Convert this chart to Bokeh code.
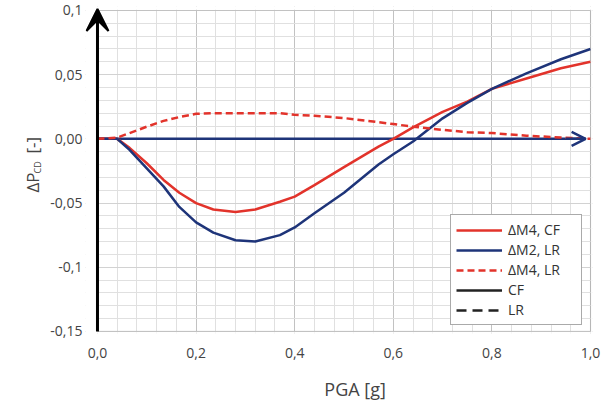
import math
from bokeh.plotting import figure
from bokeh.layouts import row, column
from bokeh.models import (Range1d, FixedTicker, Arrow, VeeHead, OpenHead,
                          Legend, LegendItem, BoxAnnotation)
from bokeh.core.properties import value
from bokeh.embed import file_html
from bokeh.resources import INLINE

# ---- data ----
pga = [0.0, 0.04, 0.065, 0.1, 0.134, 0.166, 0.2, 0.235, 0.28, 0.32, 0.37, 0.4,
       0.44, 0.5, 0.57, 0.6, 0.64, 0.7, 0.75, 0.8, 0.87, 0.94, 1.0]
dm4_cf = [0.0, 0.0, -0.007, -0.019, -0.032, -0.042, -0.050, -0.055, -0.057, -0.055,
          -0.049, -0.045, -0.036, -0.022, -0.006, 0.0, 0.009, 0.021, 0.029, 0.039,
          0.047, 0.055, 0.060]
dm2_lr = [0.0, 0.0, -0.0085, -0.023, -0.037, -0.053, -0.065, -0.073, -0.079, -0.080,
          -0.075, -0.069, -0.058, -0.042, -0.020, -0.012, -0.002, 0.016, 0.028, 0.039,
          0.051, 0.062, 0.070]
dm4_lr = [0.0, 0.001, 0.0045, 0.0095, 0.014, 0.017, 0.0195, 0.020, 0.020, 0.020,
          0.020, 0.0188, 0.018, 0.0162, 0.013, 0.0115, 0.0095, 0.007, 0.0052, 0.0045,
          0.0025, 0.001, 0.0]
zero_line_x = [0.0, 0.99]
zero_line_y = [0.0, 0.0]
legend_labels = ["ΔM4, CF", "ΔM2, LR", "ΔM4, LR", "CF", "LR"]

x_ticks = [0.0, 0.2, 0.4, 0.6, 0.8, 1.0]
x_tick_labels = ["0,0", "0,2", "0,4", "0,6", "0,8", "1,0"]
y_ticks = [-0.15, -0.1, -0.05, 0.0, 0.05, 0.1]
y_tick_labels = ["-0,15", "-0,1", "-0,05", "0,00", "0,05", "0,1"]
x_title = "PGA [g]"
x_min, x_max = 0.0, 1.0
y_min, y_max = -0.15, 0.1

x_minor = [round(i * 0.04, 4) for i in range(26)]
y_minor = [round(-0.15 + i * 0.01, 4) for i in range(26)]

RED = "#e2332b"
NAVY = "#1e3479"
FONT = "Open Sans"
TXT = "#444444"

p = figure(width=568, height=372, output_backend="svg", toolbar_location=None,
           x_range=Range1d(-0.0243, 1.004), y_range=Range1d(-0.1516, 0.1031),
           min_border_left=41, min_border_right=20, min_border_top=6,
           min_border_bottom=39)

p.xaxis.ticker = FixedTicker(ticks=x_ticks, minor_ticks=x_minor)
p.yaxis.ticker = FixedTicker(ticks=y_ticks, minor_ticks=y_minor)
p.xaxis.major_label_overrides = {t: l for t, l in zip(x_ticks, x_tick_labels)}
p.yaxis.major_label_overrides = {t: l for t, l in zip(y_ticks, y_tick_labels)}

for ax in (p.xaxis, p.yaxis):
    ax.major_tick_line_color = None
    ax.minor_tick_line_color = None
    ax.major_tick_out = 0
    ax.major_tick_in = 0
    ax.minor_tick_out = 0
    ax.axis_line_color = None
    ax.major_label_text_font = FONT
    ax.major_label_text_font_size = "14px"
    ax.major_label_text_color = TXT
p.xaxis.major_label_standoff = 14
p.yaxis.major_label_standoff = 3

p.xgrid.grid_line_color = "#c2c2c2"
p.xgrid.minor_grid_line_color = "#e0e0e0"
p.ygrid.grid_line_color = "#d2d2d2"
p.ygrid.minor_grid_line_color = "#e0e0e0"
p.outline_line_color = None
p.background_fill_color = "white"

# zero reference line
p.line(zero_line_x, zero_line_y, line_color=NAVY, line_width=2.5)

r1 = p.line(pga, dm4_cf, line_color=RED, line_width=2.5)
r2 = p.line(pga, dm2_lr, line_color=NAVY, line_width=2.5)
r3 = p.line(pga, dm4_lr, line_color=RED, line_width=2.5, line_dash="7 4")
nan_y = [float("nan")] * len(pga)
r4 = p.line(pga, nan_y, line_color="#222222", line_width=2.5)
r5 = p.line(pga, nan_y, line_color="#222222", line_width=2.5, line_dash="10 6")

# white covers outside the plotting box
for kw in (dict(right=x_min), dict(bottom=y_max + 0.0006),
           dict(top=y_min - 0.0006), dict(left=x_max + 0.0012)):
    p.add_layout(BoxAnnotation(fill_color="white", fill_alpha=1,
                               line_alpha=0, **kw))
# plotting box border
p.add_layout(BoxAnnotation(left=x_min, right=x_max, bottom=y_min, top=y_max,
                           fill_alpha=0, line_color="#a0a0a0", line_width=1.2))

# arrow head on the zero line
p.add_layout(Arrow(end=OpenHead(size=14, line_color=NAVY, line_width=2.5),
                   x_start=0.95, y_start=0.0, x_end=zero_line_x[1], y_end=0.0,
                   line_color=NAVY, line_width=2.5))
# y axis arrow
p.add_layout(Arrow(end=VeeHead(size=22, fill_color="black", fill_alpha=1.0,
                               line_color="black", line_width=2),
                   x_start=0, y_start=y_min, x_end=0, y_end=0.1012,
                   line_color="black", line_width=3))

legend = Legend(items=[LegendItem(label=l, renderers=[r])
                       for l, r in zip(legend_labels, [r1, r2, r3, r4, r5])],
                location=(365, 8))
legend.border_line_color = "#555555"
legend.border_line_width = 1
legend.background_fill_alpha = 1
legend.label_text_font = FONT
legend.label_text_font_size = "14px"
legend.label_text_color = "#333333"
legend.glyph_width = 46
legend.glyph_height = 14
legend.label_height = 18
legend.label_width = 68
legend.label_standoff = 6
legend.spacing = 1
legend.padding = 5
legend.margin = 0
p.add_layout(legend)

# x axis title in a thin figure below
bottom = figure(width=568, height=32, output_backend="svg", toolbar_location=None,
                x_range=Range1d(0, 568), y_range=Range1d(0, 32),
                x_axis_type=None, y_axis_type=None, min_border=0,
                outline_line_color=None)
bottom.grid.visible = False
bottom.text(x=[302], y=[16], text=[x_title], text_align="center",
            text_baseline="alphabetic", text_font=value(FONT),
            text_font_size="18px", text_color=TXT)

# y axis title in a narrow side figure
side = figure(width=44, height=404, output_backend="svg", toolbar_location=None,
              x_range=Range1d(0, 44), y_range=Range1d(0, 404),
              x_axis_type=None, y_axis_type=None, min_border=0,
              outline_line_color=None)
side.grid.visible = False
side.text(x=[32, 32], y=[212, 251], text=["ΔP", "[-]"], angle=math.pi / 2,
          text_align="left", text_baseline="alphabetic",
          text_font=value(FONT), text_font_size="17px", text_color=TXT)
side.text(x=[37], y=[231], text=["CD"], angle=math.pi / 2,
          text_align="left", text_baseline="alphabetic",
          text_font=value(FONT), text_font_size="9px", text_color=TXT)

layout = row(side, column(p, bottom))
open("out.html", "w").write(file_html(layout, INLINE))
